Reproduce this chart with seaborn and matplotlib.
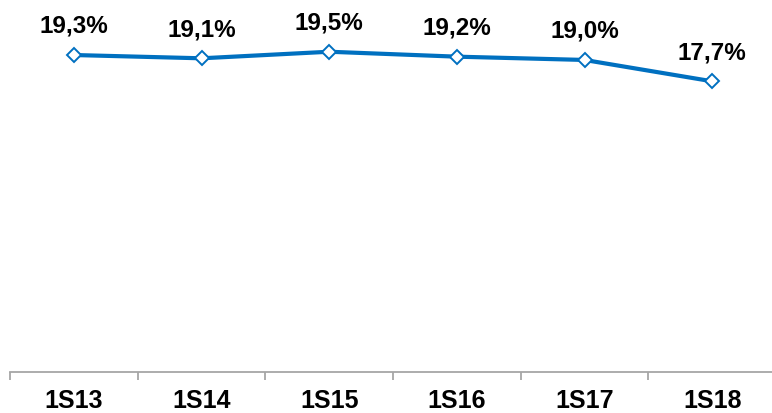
import numpy as np
import pandas as pd
import seaborn as sns
from matplotlib import pyplot as plt

## DADOS

periodos = ['1S13', '1S14', '1S15', '1S16', '1S17', '1S18']
valores = [19.3, 19.1, 19.5, 19.2, 19.0, 17.7]
rotulos = ['19,3%', '19,1%', '19,5%', '19,2%', '19,0%', '17,7%']

df = pd.DataFrame({'Periodo': periodos, 'Valor': valores})

azul = '#0070C0'
cinza = '#A6A6A6'

sns.set_theme(style='white')
plt.rcParams['font.family'] = ['Liberation Sans', 'DejaVu Sans']

fig = plt.figure(figsize=(7.72, 4.13), dpi=100)
ax = fig.add_axes([10/772, 41/413, 766/772, 372/413])

sns.lineplot(data=df, x='Periodo', y='Valor', ax=ax, color=azul, linewidth=3,
             marker='D', markersize=7, markerfacecolor='white',
             markeredgecolor=azul, markeredgewidth=1.4)

for i, (v, r) in enumerate(zip(valores, rotulos)):
    ax.annotate(r, (i, v), xytext=(0, 16), textcoords='offset points',
                ha='center', va='baseline', fontsize=17.5, fontweight='bold',
                color='black')

ax.set_xlim(-0.5, 5.5)
ax.set_ylim(0, 22.65)

for s in ['top', 'right', 'left']:
    ax.spines[s].set_visible(False)
ax.spines['bottom'].set_color(cinza)
ax.spines['bottom'].set_linewidth(1.3)

ax.set_yticks([])
ax.set_xticks(range(len(periodos)))
ax.set_xticklabels(periodos, fontsize=18, fontweight='bold', color='black')
ax.tick_params(axis='x', which='major', bottom=True, length=0, pad=12)
ax.set_xticks(np.arange(-0.5, 5.6, 1), minor=True)
ax.tick_params(axis='x', which='minor', bottom=True, length=6, width=1.3,
               color=cinza, direction='out')
ax.set_xlabel('')
ax.set_ylabel('')

plt.savefig('out.png', dpi=100)
